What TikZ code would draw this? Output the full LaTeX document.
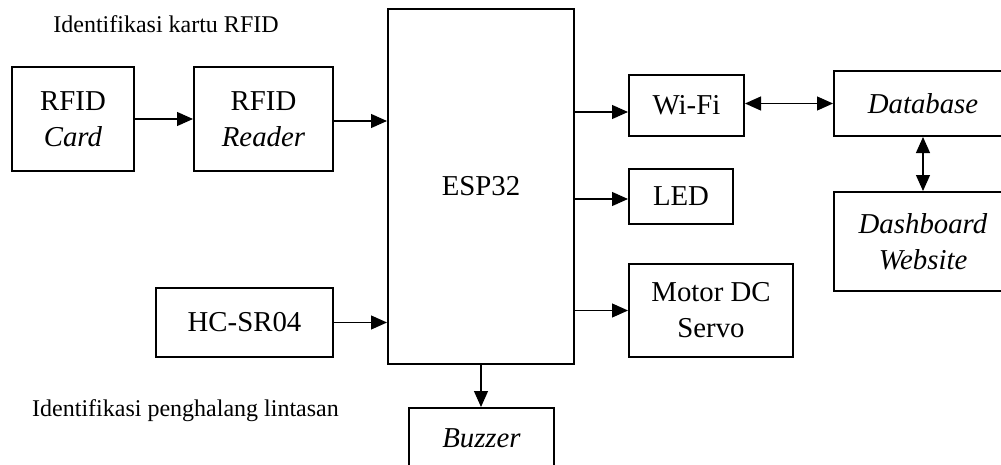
\documentclass[tikz,border=0pt]{standalone}
\usepackage{fontspec}
\setmainfont{Liberation Serif}
\usetikzlibrary{arrows.meta}

\begin{document}
\begin{tikzpicture}[x=0.5pt, y=-0.5pt,
    block/.style={draw, line width=1pt, align=center, inner sep=0pt,
      font=\fontsize{14.4}{18}\selectfont},
    arr/.style={-{Triangle[length=8pt, width=7pt]}, line width=0.6pt},
    biarr/.style={{Triangle[length=8pt, width=7pt]}-{Triangle[length=8pt, width=7pt]}, line width=0.6pt},
    caption/.style={font=\fontsize{12}{14}\selectfont, anchor=base}]
    \useasboundingbox (0,0) rectangle (1001,465);
    \clip (0,0) rectangle (1001,465);
    % Nodes
    \node[block, minimum width=61pt, minimum height=52pt]     (card)   at (73,119)    {RFID\\\textit{Card}};
    \node[block, minimum width=69.5pt, minimum height=52pt]   (reader) at (263.5,119) {RFID\\\textit{Reader}};
    \node[block, minimum width=88.5pt, minimum height=34.5pt] (hc)     at (244.5,322.5) {HC-SR04};
    \node[block, minimum width=93pt, minimum height=177.5pt]  (esp)    at (481,186.5) {ESP32};
    \node[block, minimum width=57.5pt, minimum height=30.5pt] (wifi)   at (686.5,105.5) {Wi-Fi};
    \node[block, minimum width=52pt, minimum height=27.5pt]   (led)    at (681,196.5) {LED};
    \node[block, minimum width=82pt, minimum height=46.5pt]   (motor)  at (711,310.5) {Motor DC\\Servo};
    \node[block, minimum width=72.5pt, minimum height=30pt]   (buzzer) at (481.5,438) {\textit{Buzzer}};
    \node[block, minimum width=89pt, minimum height=32.5pt]   (db)     at (923,103.5) {\textit{Database}};
    \node[block, minimum width=89pt, minimum height=49.5pt]   (dash)   at (923,241.5) {\textit{Dashboard}\\\textit{Website}};
    % Captions
    \node[caption] (capcard) at (166,33)    {Identifikasi kartu RFID};
    \node[caption] (caphc)   at (185.5,416) {Identifikasi penghalang lintasan};
    % Edges
    \draw[arr] (card) -- (reader);
    \draw[arr] (reader.east |- 0,121) -- (esp.west |- 0,121);
    \draw[arr] (hc) -- (hc -| esp.west);
    \draw[arr] (esp.east |- 0,112) -- (wifi.west |- 0,112);
    \draw[arr] (esp.east |- 0,199) -- (led.west |- 0,199);
    \draw[arr] (esp.east |- motor) -- (motor);
    \draw[arr] (esp.south) -- (esp.south |- buzzer.north);
    \draw[biarr] (wifi.east |- db) -- (db);
    \draw[biarr] (db) -- (dash);
\end{tikzpicture}
\end{document}
